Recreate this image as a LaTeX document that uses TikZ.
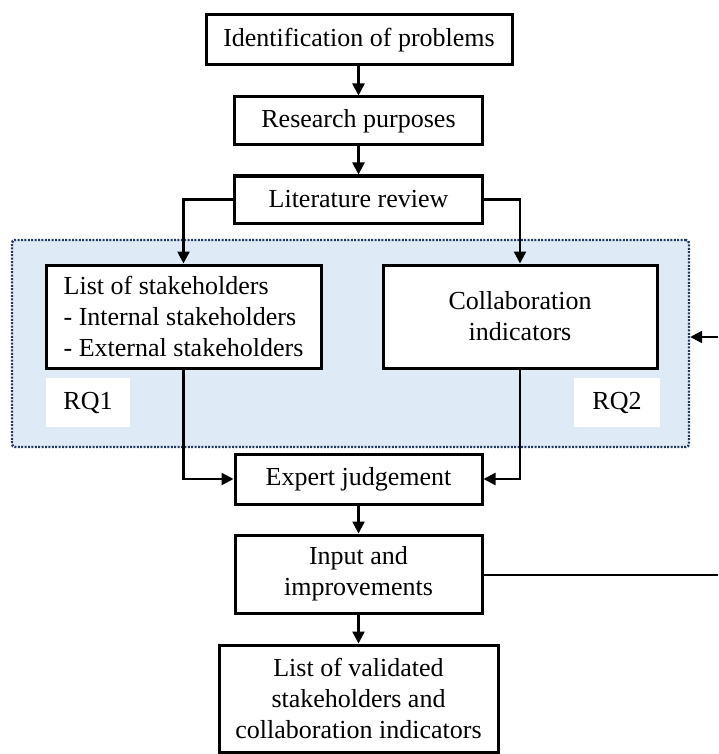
\documentclass[tikz,border=0pt]{standalone}
\usepackage{fontspec}
\setmainfont{Liberation Serif}
\usetikzlibrary{arrows.meta}
\definecolor{bluefill}{HTML}{DEEBF7}
\definecolor{dotline}{HTML}{203864}
\begin{document}
\begin{tikzpicture}[x=1pt,y=-1pt,
  box/.style={draw=black, line width=3pt, fill=white, inner sep=0pt, align=center,
    font=\fontsize{26}{31}\selectfont},
  rqbox/.style={fill=white, inner sep=0pt, font=\fontsize{26}{31}\selectfont},
  conn/.style={line width=2.4pt, -{Triangle[length=12pt,width=12pt]}},
  plain/.style={line width=2.4pt}]
\useasboundingbox (0,0) rectangle (718,754);
% blue region
\node[draw=dotline, fill=bluefill, line width=2.4pt, dash pattern=on 2pt off 1.4pt,
  rounded corners=3pt, minimum width=677pt, minimum height=207pt, inner sep=0pt] (blue) at (350.5,343.5) {};
% boxes
\node[box, minimum width=306pt, minimum height=50pt] (ident) at (359,40) {Identification of problems};
\node[box, minimum width=248pt, minimum height=48pt] (research) at (358.5,121) {Research purposes};
\node[box, minimum width=248pt, minimum height=47pt] (lit) at (358.5,199.5) {Literature review};
\node[box, minimum width=275pt, minimum height=103pt, align=left] (stake) at (183.5,316.5) {List of stakeholders\\- Internal stakeholders\\- External stakeholders};
\node[box, minimum width=274pt, minimum height=103pt] (collab) at (520,316.5) {Collaboration\\indicators};
\node[rqbox, minimum width=84pt, minimum height=49pt] (rq1) at (88,402.5) {RQ1};
\node[rqbox, minimum width=86pt, minimum height=49pt] (rq2) at (617,402.5) {RQ2};
\node[box, minimum width=247pt, minimum height=50pt] (expert) at (358.5,479) {Expert judgement};
\node[box, minimum width=247pt, minimum height=78pt] (input) at (358.5,574) {Input and\\improvements};
\node[box, minimum width=279pt, minimum height=107pt] (final) at (358.5,698.5) {List of validated\\stakeholders and\\collaboration indicators};
% connectors
\draw[conn] (research.north |- ident.south) -- (research.north);
\draw[conn] (research.south) -- (lit.north);
\draw[conn] (lit.west) -| (stake.north);
\draw[conn] (lit.east) -| (collab.north);
\draw[conn] (stake.south) |- (expert.west);
\draw[conn] (collab.south) |- (expert.east);
\draw[conn] (expert.south) -- (input.north);
\draw[conn] (input.south) -- (final.north);
\coordinate (fbA) at (718,575);
\coordinate (fbB) at (718,337);
\draw[plain] (input.east |- fbA) -- (fbA);
\draw[conn] (fbB) -- (fbB -| blue.east);
\end{tikzpicture}
\end{document}
